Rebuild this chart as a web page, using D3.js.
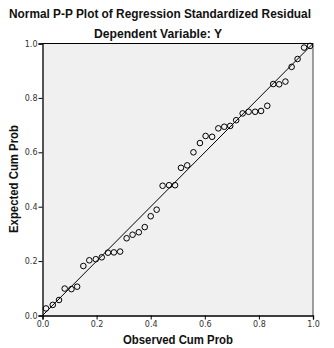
<!DOCTYPE html>
<html><head><meta charset="utf-8">
<script src="https://cdn.jsdelivr.net/npm/d3@7"></script>
<style>body{margin:0;background:#fff;}svg{display:block;}</style>
</head><body>
<script>
const observedCumProb = [0.013,0.038,0.061,0.082,0.107,0.128,0.151,0.173,0.197,0.219,0.242,0.264,0.287,0.311,0.333,0.356,0.378,0.400,0.422,0.444,0.468,0.490,0.512,0.535,0.558,0.582,0.603,0.627,0.650,0.672,0.694,0.716,0.740,0.762,0.786,0.808,0.831,0.853,0.875,0.898,0.921,0.943,0.967,0.989];
const expectedCumProb = [0.026,0.039,0.057,0.099,0.097,0.106,0.182,0.203,0.207,0.214,0.231,0.232,0.235,0.284,0.297,0.306,0.325,0.365,0.389,0.477,0.479,0.479,0.543,0.552,0.600,0.634,0.660,0.657,0.688,0.694,0.697,0.718,0.743,0.749,0.749,0.752,0.771,0.851,0.850,0.860,0.914,0.943,0.985,0.991];
const tickValues = [0,0.2,0.4,0.6,0.8,1.0];
const tickLabels = ["0.0","0.2","0.4","0.6","0.8","1.0"];
const titleText = "Normal P-P Plot of Regression Standardized Residual";
const subtitleText = "Dependent Variable: Y";
const xLabel = "Observed Cum Prob";
const yLabel = "Expected Cum Prob";

const W = 334, H = 348;
const svg = d3.select("body").append("svg").attr("width", W).attr("height", H);
const x = d3.scaleLinear().domain([0,1]).range([42.5,313]);
const y = d3.scaleLinear().domain([0,1]).range([315.5,43.5]);
const font = "'Liberation Sans', Arial, sans-serif";
const tickFont = "'DejaVu Sans', Verdana, sans-serif";

svg.append("rect").attr("x", x(0)).attr("y", y(1)).attr("width", x(1)-x(0)).attr("height", y(0)-y(1)).attr("fill", "#f0f0f0");
svg.append("line").attr("x1", x(0)).attr("x2", x(1)).attr("y1", y(1)).attr("y2", y(1)).attr("stroke", "#000").attr("stroke-width", 1.2);
svg.append("line").attr("x1", x(1)).attr("x2", x(1)).attr("y1", y(1)).attr("y2", y(0)).attr("stroke", "#444").attr("stroke-width", 1);

const fmt = d => tickLabels[tickValues.indexOf(d)];
const xAxis = svg.append("g").attr("transform", `translate(0,${y(0)})`)
  .call(d3.axisBottom(x).tickValues(tickValues).tickFormat(fmt).tickSizeOuter(0).tickSize(4));
const yAxis = svg.append("g").attr("transform", `translate(${x(0)},0)`)
  .call(d3.axisLeft(y).tickValues(tickValues).tickFormat(fmt).tickSizeOuter(0).tickSize(4));
[xAxis, yAxis].forEach(g => {
  g.select(".domain").attr("stroke", "#000").attr("stroke-width", 1.3);
  g.selectAll(".tick line").attr("stroke", "#000");
  g.selectAll("text").attr("font-family", tickFont).attr("font-size", 8).attr("fill", "#333");
});
xAxis.selectAll("text").attr("y", 6);
yAxis.selectAll("text").attr("x", -5);

svg.append("line").attr("x1", x(0)).attr("y1", y(0)).attr("x2", x(1)).attr("y2", y(1)).attr("stroke", "#000").attr("stroke-width", 1);

svg.append("g").selectAll("circle").data(observedCumProb).join("circle")
  .attr("cx", d => x(d)).attr("cy", (d,i) => y(expectedCumProb[i])).attr("r", 2.8)
  .attr("fill", "none").attr("stroke", "#000").attr("stroke-width", 1);

function label(txt, size, len) {
  return svg.append("text").attr("text-anchor", "middle")
    .attr("font-family", font).attr("font-weight", "bold").attr("font-size", size)
    .attr("fill", "#111").attr("textLength", len).attr("lengthAdjust", "spacingAndGlyphs").text(txt);
}
label(titleText, 12.5, 302).attr("x", 160).attr("y", 18);
label(subtitleText, 12.5, 128).attr("x", 158).attr("y", 38);
label(xLabel, 12, 110).attr("x", 178).attr("y", 344);
label(yLabel, 12, 108).attr("transform", "translate(18,179) rotate(-90)");
</script>
</body></html>
